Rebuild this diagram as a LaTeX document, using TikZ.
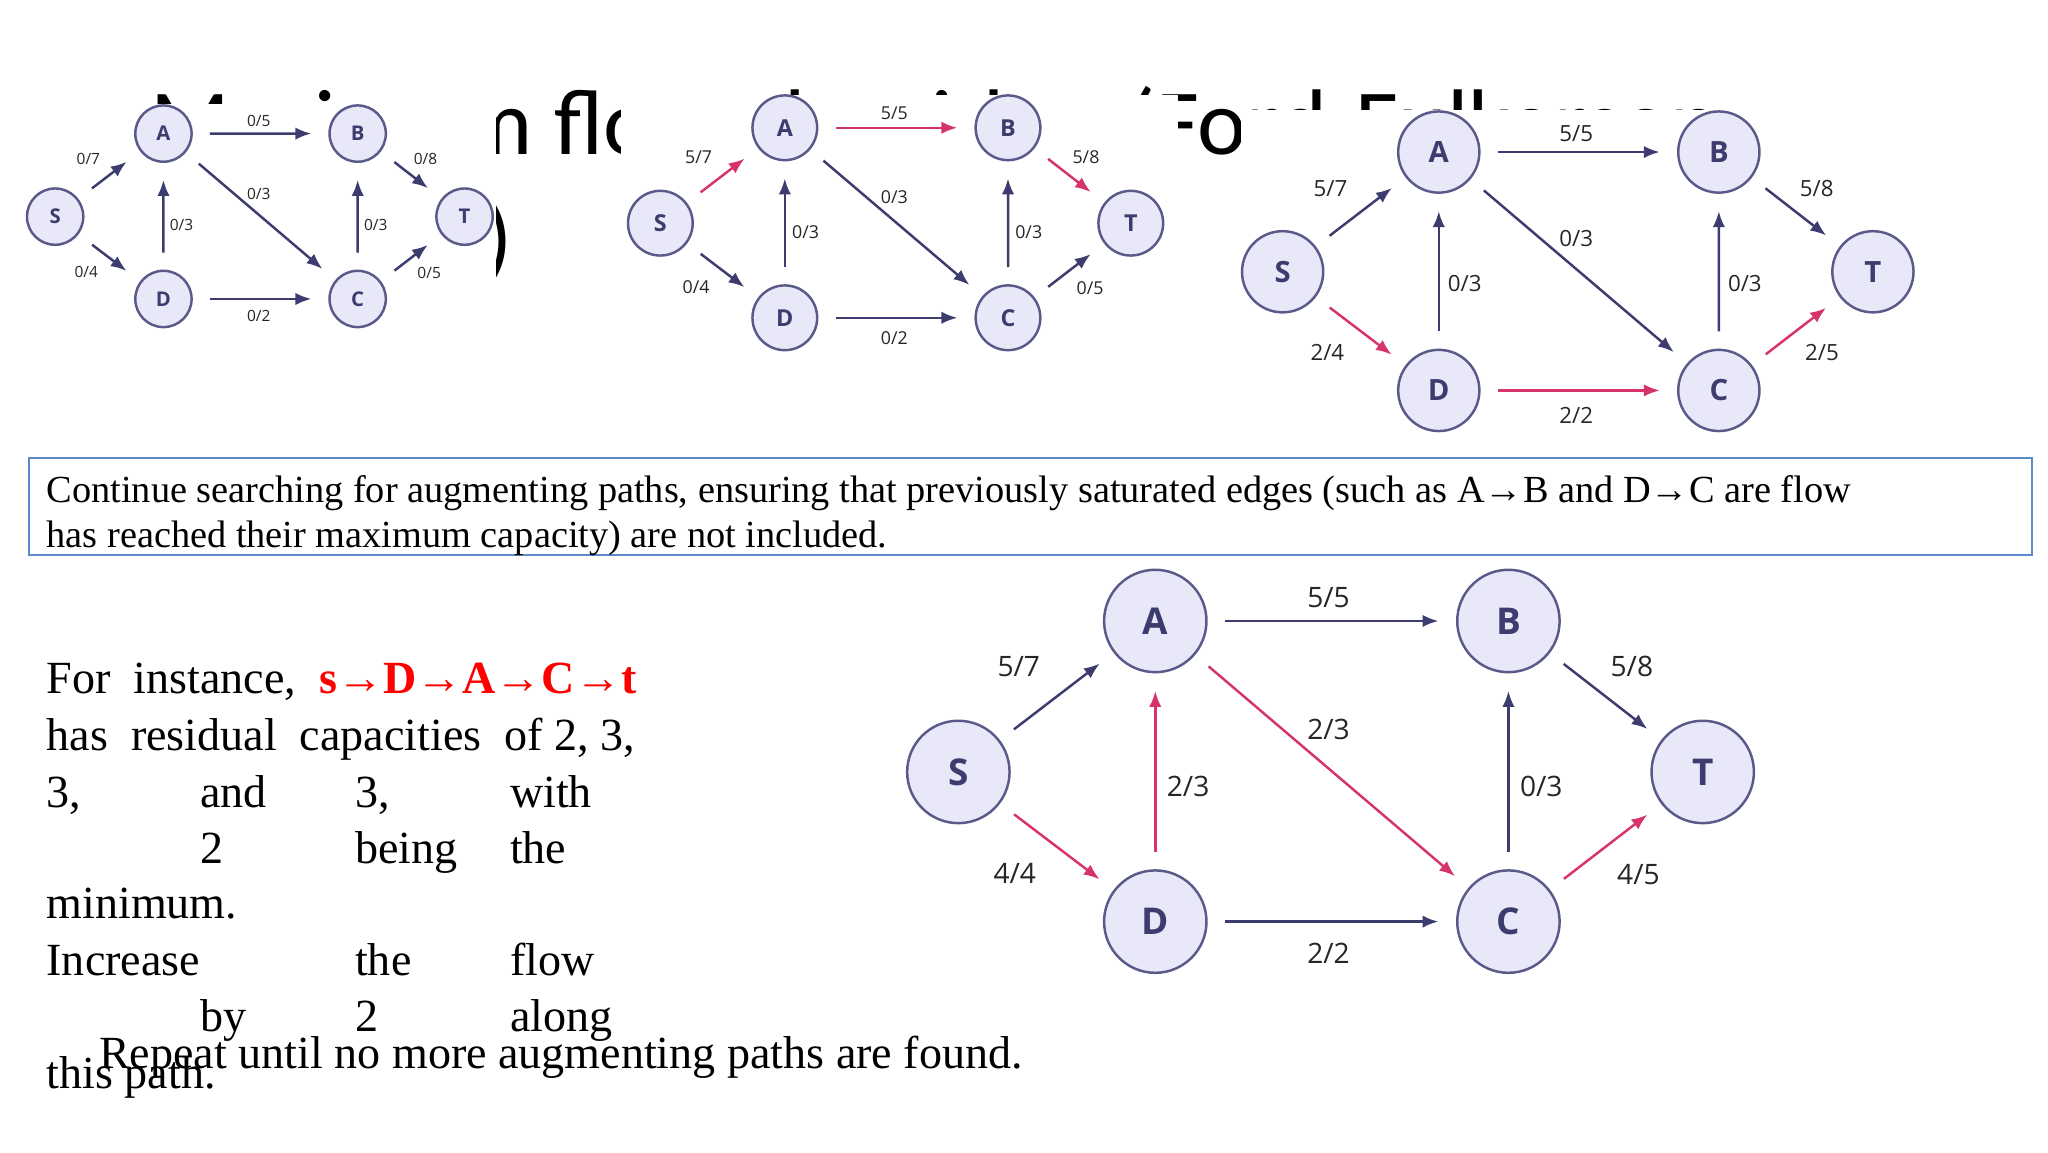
\documentclass[tikz,border=0pt]{standalone}
\usepackage{fontspec}
\setmainfont{Liberation Serif}
\newfontfamily\titlefont{Carlito}
\newfontfamily\gfont{Open Sans}
\usetikzlibrary{arrows.meta}
\definecolor{gnav}{HTML}{3C3C6E}
\definecolor{gred}{HTML}{D6336C}
\definecolor{gfill}{HTML}{E8E8F8}
\definecolor{gbord}{HTML}{5A5A8A}
\definecolor{boxblue}{HTML}{5B8BC9}
\tikzset{
 gn/.style={circle,draw=gbord,fill=gfill,line width=0.7pt,minimum size=78*0.013128cm,inner sep=0pt,font=\gfont\bfseries\fontsize{10.5}{12}\selectfont,text=gnav},
 lb/.style={font=\gfont\fontsize{8}{9}\selectfont,text=black!85,inner sep=0pt},
 ge/.style={draw=gnav,line width=0.7pt,-{Latex[length=4.5pt,width=3.5pt]},shorten <=5pt,shorten >=5pt},
 gr/.style={ge,draw=gred},
 wd/.style={anchor=base west,inner sep=0pt,font=\fontsize{13.1}{15}\selectfont},
 ttl/.style={anchor=base west,inner sep=0pt,font=\titlefont\fontsize{26.5}{32}\selectfont},
 cover/.style={fill=white,draw=none}
}
\newcommand\gnodes[1]{%
 \node[gn] (#1S) at (0,0) {S};
 \node[gn] (#1A) at (150,-115) {A};
 \node[gn] (#1B) at (419,-115) {B};
 \node[gn] (#1T) at (567,0) {T};
 \node[gn] (#1D) at (150,114) {D};
 \node[gn] (#1C) at (419,114) {C};}
\begin{document}
\begin{tikzpicture}[x=0.013128cm,y=-0.013128cm]
\useasboundingbox (0,0) rectangle (1560,877.5);
% title (mostly covered by the graph pictures)
\node[ttl] (t1) at (114,118) {Maximum flow algorithm (Ford-Fulkerson};
\node[ttl,anchor=base east] (t2) at (391,205) {algorithm)};
\fill[cover] (15,79) rectangle (378,258);
\fill[cover] (473,72) rectangle (897,272);
\fill[cover] (945,84) rectangle (1462,336);
% graph 1
\begin{scope}[shift={(42,165)},scale=0.55,transform shape]
\gnodes{a}
\draw[ge] (aS)--(aA); \draw[ge] (aA)--(aB); \draw[ge] (aB)--(aT);
\draw[ge] (aA)--(aC); \draw[ge] (aD)--(aA); \draw[ge] (aC)--(aB);
\draw[ge] (aS)--(aD); \draw[ge] (aD)--(aC); \draw[ge] (aC)--(aT);
\node[lb] at (46,-80) {0/7}; \node[lb] at (282,-133) {0/5}; \node[lb] at (513,-80) {0/8};
\node[lb] at (282,-32) {0/3}; \node[lb] at (175,11) {0/3}; \node[lb] at (444,11) {0/3};
\node[lb] at (43,77) {0/4}; \node[lb] at (282,138) {0/2}; \node[lb] at (518,78) {0/5};
\end{scope}
% graph 2
\begin{scope}[shift={(503,170)},scale=0.632,transform shape]
\gnodes{b}
\draw[gr] (bS)--(bA); \draw[gr] (bA)--(bB); \draw[gr] (bB)--(bT);
\draw[ge] (bA)--(bC); \draw[ge] (bD)--(bA); \draw[ge] (bC)--(bB);
\draw[ge] (bS)--(bD); \draw[ge] (bD)--(bC); \draw[ge] (bC)--(bT);
\node[lb] at (46,-80) {5/7}; \node[lb] at (282,-133) {5/5}; \node[lb] at (513,-80) {5/8};
\node[lb] at (282,-32) {0/3}; \node[lb] at (175,11) {0/3}; \node[lb] at (444,11) {0/3};
\node[lb] at (43,77) {0/4}; \node[lb] at (282,138) {0/2}; \node[lb] at (518,78) {0/5};
\end{scope}
% graph 3
\begin{scope}[shift={(977,207)},scale=0.793,transform shape]
\gnodes{c}
\draw[ge] (cS)--(cA); \draw[ge] (cA)--(cB); \draw[ge] (cB)--(cT);
\draw[ge] (cA)--(cC); \draw[ge] (cD)--(cA); \draw[ge] (cC)--(cB);
\draw[gr] (cS)--(cD); \draw[gr] (cD)--(cC); \draw[gr] (cC)--(cT);
\node[lb] at (46,-80) {5/7}; \node[lb] at (282,-133) {5/5}; \node[lb] at (513,-80) {5/8};
\node[lb] at (282,-32) {0/3}; \node[lb] at (175,11) {0/3}; \node[lb] at (444,11) {0/3};
\node[lb] at (43,77) {2/4}; \node[lb] at (282,138) {2/2}; \node[lb] at (518,78) {2/5};
\end{scope}
% graph 4
\begin{scope}[shift={(730,588)}]
\gnodes{d}
\draw[ge] (dS)--(dA); \draw[ge] (dA)--(dB); \draw[ge] (dB)--(dT);
\draw[gr] (dA)--(dC); \draw[gr] (dD)--(dA); \draw[ge] (dC)--(dB);
\draw[gr] (dS)--(dD); \draw[ge] (dD)--(dC); \draw[gr] (dC)--(dT);
\node[lb] at (46,-80) {5/7}; \node[lb] at (282,-133) {5/5}; \node[lb] at (513,-80) {5/8};
\node[lb] at (282,-32) {2/3}; \node[lb] at (175,11) {2/3}; \node[lb] at (444,11) {0/3};
\node[lb] at (43,77) {4/4}; \node[lb] at (282,138) {2/2}; \node[lb] at (518,78) {4/5};
\end{scope}
% box
\draw[boxblue,line width=0.6pt] (22,349) rectangle (1548,423);
\node[wd,font=\fontsize{10.9}{13}\selectfont] (bx1) at (35,383) {Continue searching for augmenting paths, ensuring that previously saturated edges (such as A→B and D→C are flow};
\node[wd,font=\fontsize{10.9}{13}\selectfont] (bx2) at (35,417) {has reached their maximum capacity) are not included.};
% paragraph
\node[wd] (p1) at (35,528) {For\ \ instance,\ \ \textcolor{red}{\bfseries s→D→A→C→t}};
\node[wd] (p2) at (35,572) {has\ \ residual\ \ capacities\ \ of\ 2,\ 3,};
\node[wd] (p3a) at (35,615) {3,}; \node[wd] (p3b) at (152,615) {and};
\node[wd] (p3c) at (270,615) {3,}; \node[wd] (p3d) at (388,615) {with};
\node[wd] (p4a) at (152,658) {2}; \node[wd] (p4b) at (270,658) {being}; \node[wd] (p4c) at (388,658) {the};
\node[wd] (p5) at (35,700) {minimum.};
\node[wd] (p6a) at (35,743) {Increase}; \node[wd] (p6b) at (270,743) {the}; \node[wd] (p6c) at (388,743) {flow};
\node[wd] (p7a) at (152,786) {by}; \node[wd] (p7b) at (270,786) {2}; \node[wd] (p7c) at (388,786) {along};
\node[wd] (p8) at (35,829) {this path.};
\node[wd] (rep) at (75,814) {Repeat until no more augmenting paths are found.};
\end{tikzpicture}
\end{document}
